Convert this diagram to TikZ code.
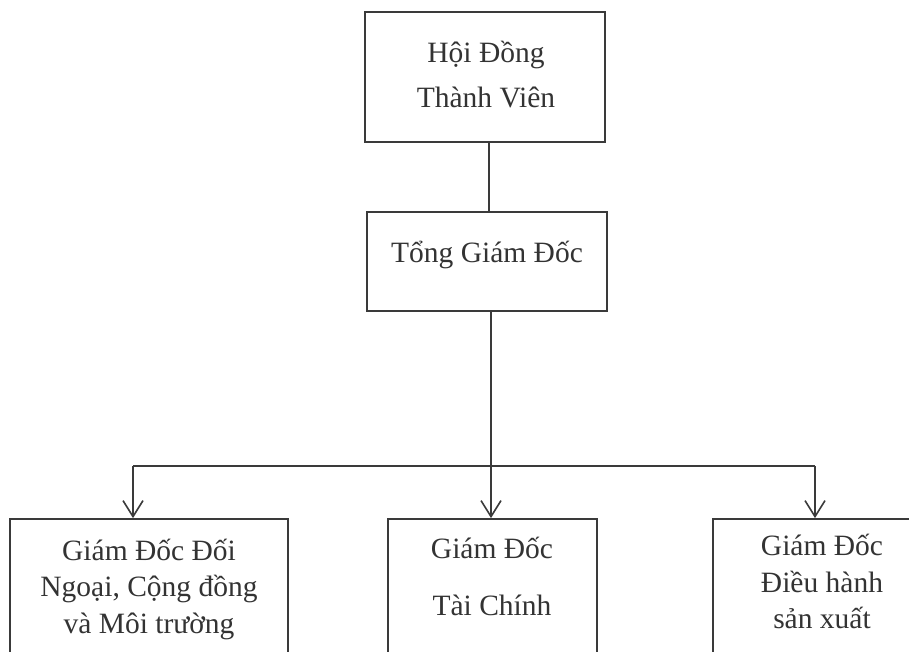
\documentclass[tikz,border=0pt]{standalone}
\usepackage{fontspec}
\setmainfont{Liberation Serif}
\usetikzlibrary{arrows.meta}
\definecolor{ink}{HTML}{3A3A3A}
\definecolor{txt}{HTML}{333333}
\tikzset{
  box/.style={draw=ink, line width=1.8pt, rectangle, inner sep=0pt},
  lbl/.style={anchor=base, text=txt, font=\fontsize{29.5}{34}\selectfont, inner sep=0pt},
  conn/.style={draw=ink, line width=1.8pt},
  arr/.style={conn, -{Straight Barb[length=16pt,width=20pt,line width=1.6pt]}}
}
\begin{document}
\begin{tikzpicture}[x=1pt,y=-1pt]
\clip (0,0) rectangle (909,652);
\fill[white] (0,0) rectangle (909,652);
% boxes
\node[box, minimum width=240pt, minimum height=130pt] (hd) at (485,77) {};
\node[box, minimum width=240pt, minimum height=99pt] (tgd) at (487,261.5) {};
\node[box, minimum width=278pt, minimum height=170pt] (b1) at (149,604) {};
\node[box, minimum width=209pt, minimum height=170pt] (b2) at (492.5,604) {};
\node[box, minimum width=218pt, minimum height=170pt] (b3) at (822,604) {};
% labels
\node[lbl] (t1) at (486,63) {Hội Đồng};
\node[lbl] (t2) at (486,108) {Thành Viên};
\node[lbl] (t3) at (487,262) {Tổng Giám Đốc};
\node[lbl] (t4) at (149,560) {Giám Đốc Đối};
\node[lbl] (t5) at (149,596) {Ngoại, Cộng đồng};
\node[lbl] (t6) at (149,633) {và Môi trường};
\node[lbl] (t7) at (492,558) {Giám Đốc};
\node[lbl] (t8) at (492,615) {Tài Chính};
\node[lbl] (t9) at (822,555) {Giám Đốc};
\node[lbl] (t10) at (822,592) {Điều hành};
\node[lbl] (t11) at (822,628) {sản xuất};
% connectors
\coordinate (jl) at (133,466);
\coordinate (jm) at (491,466);
\coordinate (jr) at (815,466);
\draw[conn] ([xshift=4pt]hd.south) -- ([xshift=2pt]tgd.north);
\draw[conn] (jm |- tgd.south) -- (jm);
\draw[conn] (jl) -- (jr);
\draw[arr] (jl) -- (jl |- b1.north);
\draw[arr] (jm) -- (jm |- b2.north);
\draw[arr] (jr) -- (jr |- b3.north);
\end{tikzpicture}
\end{document}
